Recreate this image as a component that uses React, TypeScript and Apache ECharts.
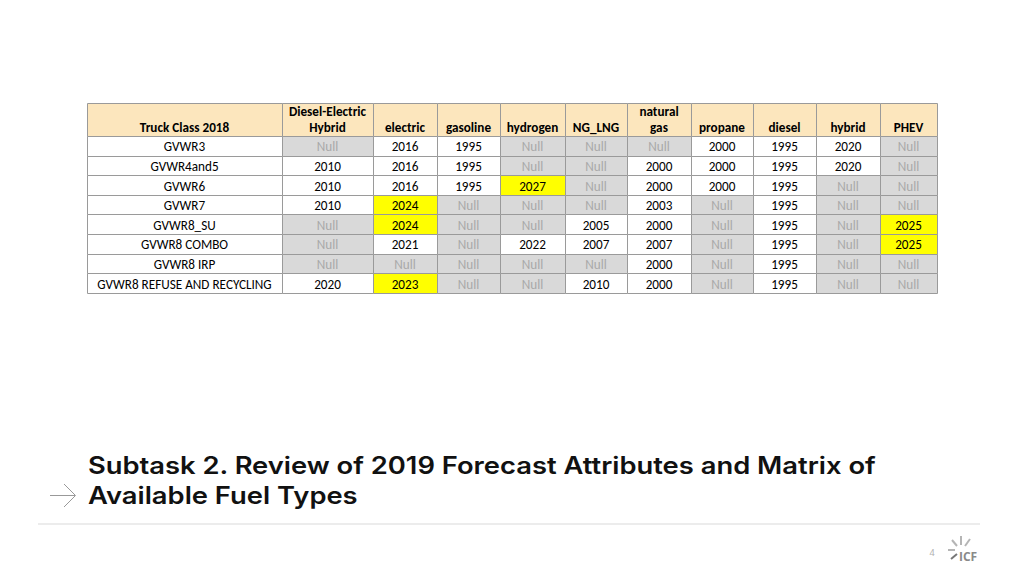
import React, { useEffect, useRef } from "react";
import * as echarts from "echarts";

// ---- data ----
const headers = [
  "Truck Class 2018",
  "Diesel-Electric\nHybrid",
  "electric",
  "gasoline",
  "hydrogen",
  "NG_LNG",
  "natural\ngas",
  "propane",
  "diesel",
  "hybrid",
  "PHEV",
];
const truckClasses = [
  "GVWR3",
  "GVWR4and5",
  "GVWR6",
  "GVWR7",
  "GVWR8_SU",
  "GVWR8 COMBO",
  "GVWR8 IRP",
  "GVWR8 REFUSE AND RECYCLING",
];
const dieselElectricHybrid = [null, 2010, 2010, 2010, null, null, null, 2020];
const electric = [2016, 2016, 2016, 2024, 2024, 2021, null, 2023];
const gasoline = [1995, 1995, 1995, null, null, null, null, null];
const hydrogen = [null, null, 2027, null, null, 2022, null, null];
const ngLng = [null, null, null, null, 2005, 2007, null, 2010];
const naturalGas = [null, 2000, 2000, 2003, 2000, 2007, 2000, 2000];
const propane = [2000, 2000, 2000, null, null, null, null, null];
const diesel = [1995, 1995, 1995, 1995, 1995, 1995, 1995, 1995];
const hybrid = [2020, 2020, null, null, null, null, null, null];
const phev = [null, null, null, null, 2025, 2025, null, null];
const fuelColumns = [
  dieselElectricHybrid,
  electric,
  gasoline,
  hydrogen,
  ngLng,
  naturalGas,
  propane,
  diesel,
  hybrid,
  phev,
];
const highlightFrom = 2023;

const titleLines = [
  "Subtask 2. Review of 2019 Forecast Attributes and Matrix of",
  "Available Fuel Types",
];
const pageNumber = "4";

// ---- layout / style ----
const colWidths = [195, 91, 64, 63, 65, 62, 64, 62, 63, 64, 57];
const colEdges: number[] = [0];
colWidths.forEach((w) => colEdges.push(colEdges[colEdges.length - 1] + w));
const totalW = colEdges[colEdges.length - 1];
const headerH = 33;
const rowH = 19.6;
const totalH = headerH + rowH * truckClasses.length;

const FONT = "Carlito, Lato, 'Open Sans', sans-serif";
const HEADER_FILL = "#fce6bd";
const NULL_FILL = "#d9d9d9";
const NULL_TEXT = "#a8a8a8";
const YELLOW = "#ffff00";
const BORDER = "#9a9a9a";

type Cell = { value: [number, number]; text: string; kind: string };

function buildCells(): Cell[] {
  const cells: Cell[] = [];
  headers.forEach((h, c) => cells.push({ value: [c, -1], text: h, kind: "header" }));
  truckClasses.forEach((name, r) => {
    cells.push({ value: [0, r], text: name, kind: "label" });
    fuelColumns.forEach((col, i) => {
      const v = col[r];
      if (v === null) cells.push({ value: [i + 1, r], text: "Null", kind: "null" });
      else
        cells.push({
          value: [i + 1, r],
          text: String(v),
          kind: v >= highlightFrom ? "hi" : "val",
        });
    });
  });
  return cells;
}

export default function App() {
  const ref = useRef<HTMLDivElement>(null);
  useEffect(() => {
    if (!ref.current) return;
    const chart = echarts.init(ref.current, undefined, { renderer: "svg" });
    const cells = buildCells();

    const logoRays = [
      [[952, 540], [957, 546]],
      [[961, 536], [961, 545]],
      [[970, 539], [965, 546]],
      [[948, 550], [955, 550]],
      [[951, 559], [957, 554]],
    ];

    chart.setOption({
      animation: false,
      backgroundColor: "#ffffff",
      grid: { left: 87, top: 103, width: totalW, height: totalH },
      xAxis: { type: "value", min: 0, max: totalW, show: false },
      yAxis: { type: "value", min: 0, max: totalH, inverse: true, show: false },
      series: [
        {
          type: "custom",
          data: cells,
          renderItem: (params: any, api: any) => {
            const cell = cells[params.dataIndex];
            const c = api.value(0);
            const r = api.value(1);
            const x0 = colEdges[c];
            const x1 = colEdges[c + 1];
            const y0 = r < 0 ? 0 : headerH + r * rowH;
            const y1 = r < 0 ? headerH : headerH + (r + 1) * rowH;
            const p0 = api.coord([x0, y0]);
            const p1 = api.coord([x1, y1]);
            let fill = "#ffffff";
            let textFill = "#000000";
            let weight: any = "normal";
            if (cell.kind === "header") {
              fill = HEADER_FILL;
              weight = "bold";
            } else if (cell.kind === "null") {
              fill = NULL_FILL;
              textFill = NULL_TEXT;
            } else if (cell.kind === "hi") {
              fill = YELLOW;
            }
            const isHeader = cell.kind === "header";
            return {
              type: "group",
              children: [
                {
                  type: "rect",
                  shape: {
                    x: Math.round(p0[0]) + 0.5,
                    y: Math.round(p0[1]) + 0.5,
                    width: Math.round(p1[0]) - Math.round(p0[0]),
                    height: Math.round(p1[1]) - Math.round(p0[1]),
                  },
                  style: { fill, stroke: BORDER, lineWidth: 1 },
                },
                {
                  type: "text",
                  x: (p0[0] + p1[0]) / 2,
                  y: isHeader ? p1[1] - 1 : (p0[1] + p1[1]) / 2 + 1,
                  style: {
                    text: cell.text,
                    align: "center",
                    verticalAlign: isHeader ? "bottom" : "middle",
                    fill: textFill,
                    fontSize: 13.2,
                    fontFamily: FONT,
                    fontWeight: weight,
                    lineHeight: 16,
                  },
                },
              ],
            };
          },
        },
      ],
      graphic: [
        {
          type: "text",
          x: 88,
          y: 450,
          scaleX: 1.14,
          style: {
            text: titleLines.join("\n"),
            fill: "#111111",
            fontSize: 24,
            fontWeight: 600,
            fontFamily: "Inter, sans-serif",
            lineHeight: 30,
          },
        },
        {
          type: "polyline",
          shape: { points: [[50, 495.5], [75, 495.5]] },
          style: { stroke: "#999999", lineWidth: 1, fill: "none" },
        },
        {
          type: "polyline",
          shape: { points: [[64, 484], [75.5, 495.5], [64, 507]] },
          style: { stroke: "#999999", lineWidth: 1, fill: "none" },
        },
        {
          type: "line",
          shape: { x1: 38, y1: 524, x2: 980, y2: 524 },
          style: { stroke: "#ececec", lineWidth: 2 },
        },
        {
          type: "text",
          x: 932,
          y: 552,
          style: {
            text: pageNumber,
            fill: "#b0b0b0",
            fontSize: 9,
            fontFamily: "'Noto Sans', sans-serif",
            align: "center",
            verticalAlign: "middle",
          },
        },
        ...logoRays.map((p, i) => ({
          type: "line",
          shape: { x1: p[0][0], y1: p[0][1], x2: p[1][0], y2: p[1][1] },
          style: { stroke: i === 4 ? "#777777" : "#b5b5b5", lineWidth: 2 },
        })),
        {
          type: "text",
          x: 959,
          y: 556,
          style: {
            text: "ICF",
            fill: "#8a8a8a",
            fontSize: 12,
            fontWeight: "bold",
            fontFamily: "'Open Sans', sans-serif",
            verticalAlign: "middle",
          },
        },
      ],
    });
    return () => chart.dispose();
  }, []);
  return (
    <div
      ref={ref}
      style={{ position: "fixed", left: 0, top: 0, width: 1024, height: 576 }}
    />
  );
}
